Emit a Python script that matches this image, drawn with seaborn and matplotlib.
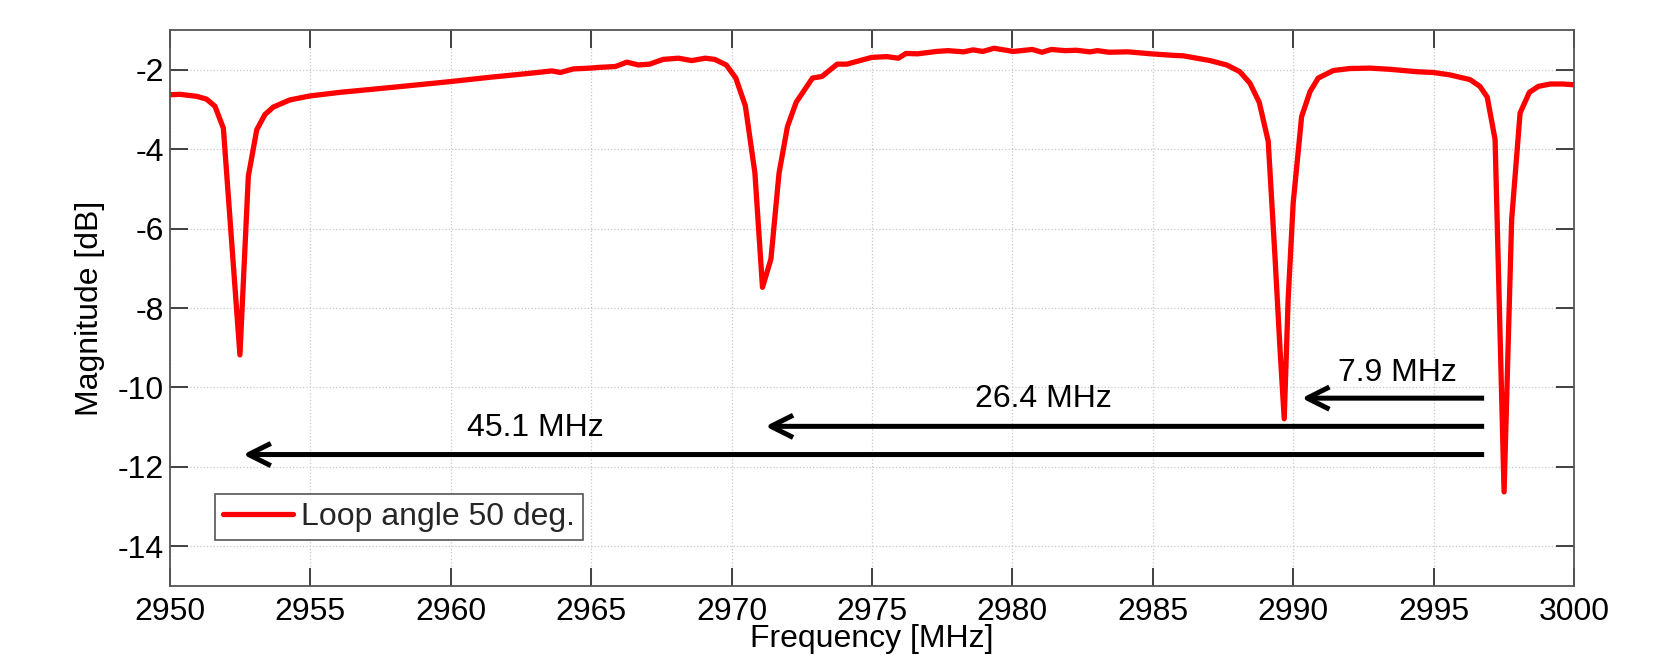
import numpy as np
import pandas as pd
import matplotlib
matplotlib.use("Agg")
import matplotlib.pyplot as plt
import seaborn as sns

# ---- data ----
freq_mhz = [
    2950.0, 2950.36, 2950.95, 2951.3, 2951.6, 2951.9, 2952.49, 2952.79, 2953.09, 2953.38,
    2953.68, 2954.27, 2954.99, 2956.05, 2957.83, 2959.97, 2961.4, 2962.82, 2963.6, 2963.9,
    2964.36, 2964.96, 2965.31, 2965.86, 2966.27, 2966.68, 2967.08, 2967.56, 2968.11, 2968.58,
    2969.06, 2969.4, 2969.81, 2970.15, 2970.49, 2970.83, 2971.1, 2971.4, 2971.69, 2971.99,
    2972.3, 2972.88, 2973.22, 2973.76, 2974.1, 2974.99, 2975.53, 2975.94, 2976.21, 2976.62,
    2977.3, 2977.71, 2978.26, 2978.6, 2978.94, 2979.35, 2980.03, 2980.71, 2981.05, 2981.39,
    2981.87, 2982.28, 2982.76, 2983.03, 2983.44, 2984.12, 2984.94, 2985.76, 2986.09, 2987.04,
    2987.63, 2988.1, 2988.46, 2988.79, 2989.11, 2989.35, 2989.53, 2989.68, 2989.82, 2990.0,
    2990.3, 2990.6, 2990.89, 2991.43, 2992.02, 2992.74, 2993.45, 2994.4, 2994.99, 2995.58,
    2996.3, 2996.65, 2996.91, 2997.19, 2997.51, 2997.78, 2998.08, 2998.41, 2998.73, 2999.15,
    2999.6, 3000.0,
]
magnitude_db = [
    -2.63, -2.62, -2.67, -2.74, -2.92, -3.47, -9.18, -4.68, -3.51, -3.13,
    -2.94, -2.76, -2.66, -2.57, -2.45, -2.30, -2.19, -2.09, -2.03, -2.07,
    -1.98, -1.96, -1.94, -1.92, -1.81, -1.88, -1.86, -1.74, -1.71, -1.77,
    -1.71, -1.74, -1.88, -2.21, -2.91, -4.60, -7.48, -6.77, -4.60, -3.43,
    -2.82, -2.21, -2.17, -1.86, -1.86, -1.69, -1.67, -1.71, -1.59, -1.60,
    -1.54, -1.52, -1.55, -1.50, -1.54, -1.46, -1.54, -1.49, -1.56, -1.49,
    -1.52, -1.51, -1.55, -1.52, -1.56, -1.55, -1.60, -1.64, -1.65, -1.77,
    -1.88, -2.05, -2.34, -2.82, -3.80, -6.69, -9.03, -10.79, -7.78, -5.35,
    -3.18, -2.55, -2.21, -2.02, -1.97, -1.96, -1.99, -2.05, -2.07, -2.13,
    -2.25, -2.42, -2.69, -3.76, -12.63, -5.77, -3.09, -2.57, -2.42, -2.36,
    -2.36, -2.38,
]
series_label = "Loop angle 50 deg."

# spacing annotations
arrow_labels = ["7.9 MHz", "26.4 MHz", "45.1 MHz"]
arrow_level_db = [-10.27, -10.98, -11.69]
arrow_tip_mhz = [2990.3, 2971.2, 2952.6]
arrow_tail_mhz = [2996.8, 2996.8, 2996.8]
label_x_mhz = [2993.7, 2981.1, 2963.0]
label_y_db = [-9.85, -10.49, -11.22]

x_ticks = [2950, 2955, 2960, 2965, 2970, 2975, 2980, 2985, 2990, 2995, 3000]
y_ticks = [-14, -12, -10, -8, -6, -4, -2]

# ---- styling ----
sns.set_theme(style="white")
plt.rcParams["font.family"] = ["Liberation Sans", "DejaVu Sans"]
FS = 23

fig = plt.figure(figsize=(16.54, 6.55), dpi=100)
ax = fig.add_axes([170 / 1654, 69 / 655, 1404 / 1654, 556 / 655])

df = pd.DataFrame({"Frequency": freq_mhz, "Magnitude": magnitude_db})
sns.lineplot(data=df, x="Frequency", y="Magnitude", color="#ff0000", lw=3.8,
             label=series_label, ax=ax, sort=False, estimator=None)

ax.set_xlim(2950, 3000)
ax.set_ylim(-15, -1)
ax.set_xticks(x_ticks)
ax.set_yticks(y_ticks)
ax.set_xticklabels([str(t) for t in x_ticks])
ax.set_yticklabels([str(t) for t in y_ticks])

ax.grid(True, linestyle=":", color="#c8c8c8", linewidth=0.9)
ax.set_axisbelow(True)
for s in ax.spines.values():
    s.set_visible(True)
    s.set_color("#555555")
    s.set_linewidth(1.3)

ax.tick_params(axis="both", which="major", direction="in", length=13, width=1.4,
               color="#404040", labelsize=FS, labelcolor="black",
               top=True, right=True, bottom=True, left=True)
ax.tick_params(axis="x", pad=8.0)
ax.tick_params(axis="y", pad=4.5)

ax.set_xlabel("Frequency [MHz]", fontsize=FS, color="black")
ax.set_ylabel("Magnitude [dB]", fontsize=FS, color="black")
ax.xaxis.set_label_coords(0.5, -0.068)
ax.yaxis.set_label_coords(-0.046, 0.5)

# arrows and labels
for lab, yv, tip, tail, lx, ly in zip(arrow_labels, arrow_level_db, arrow_tip_mhz,
                                      arrow_tail_mhz, label_x_mhz, label_y_db):
    ax.annotate("", xy=(tip, yv), xytext=(tail, yv),
                arrowprops=dict(arrowstyle="->,head_length=0.4,head_width=0.2",
                                lw=3.6, color="black", mutation_scale=40,
                                shrinkA=0, shrinkB=0, capstyle="butt"))
    ax.text(lx, ly, lab, fontsize=FS, color="black", ha="center", va="baseline")

leg = ax.legend(loc="lower left", bbox_to_anchor=(0.032, 0.083), borderaxespad=0,
                fontsize=FS, frameon=True, fancybox=False, shadow=False,
                handlelength=2.2, handletextpad=0.25, borderpad=0.25)
leg.get_frame().set_edgecolor("#555555")
leg.get_frame().set_linewidth(1.2)
leg.get_frame().set_alpha(1)

fig.savefig("out.png", dpi=100, facecolor="white")
